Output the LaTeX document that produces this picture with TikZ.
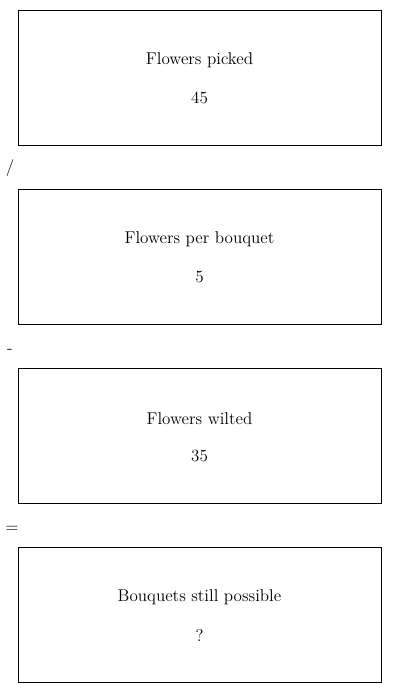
\documentclass[tikz,border=0pt]{standalone}
\usepackage{tikz}
\usetikzlibrary{positioning}

\begin{document}
\begin{tikzpicture}[
		x=0.75pt,y=-0.75pt,
		qbox/.style ={rectangle,draw,line width=0.75pt,minimum width=272.25pt,minimum height=101.25pt,inner sep=0pt},
		qtitle/.style={font=\fontsize{12.8}{15}\selectfont,inner sep=0pt},
		qval/.style  ={font=\fontsize{12.8}{15}\selectfont,inner sep=0pt},
		op/.style    ={font=\fontsize{12.8}{15}\selectfont,inner sep=0pt}
		]

		% ---- page frame (pixel units, 400 x 693) ----
		\useasboundingbox (0,0) rectangle (400,693);

		% ---- quantity boxes ----
		\node[qbox] (picked)  at (199.5, 77.5) {};
		\node[qbox] (perbq)   at (199.5,256.5) {};
		\node[qbox] (wilted)  at (199.5,435.5) {};
		\node[qbox] (result)  at (199.5,614.5) {};

		% ---- box texts ----
		\node[qtitle] (pickedtxt) at ([yshift=12.6pt] picked.center) {Flowers picked};
		\node[qval]   (pickedval) at ([yshift=-15.4pt] picked.center) {45};
		\node[qtitle] (perbqtxt)  at ([yshift=12.6pt] perbq.center) {Flowers per bouquet};
		\node[qval]   (perbqval)  at ([yshift=-15.4pt] perbq.center) {5};
		\node[qtitle] (wiltedtxt) at ([yshift=12.6pt] wilted.center) {Flowers wilted};
		\node[qval]   (wiltedval) at ([yshift=-15.4pt] wilted.center) {35};
		\node[qtitle] (resulttxt) at ([yshift=12.6pt] result.center) {Bouquets still possible};
		\node[qval]   (resultval) at ([yshift=-15.4pt] result.center) {?};

		% ---- operators between boxes ----
		\node[op] (opdiv)   at (10,168.5) {/};
		\node[op] (opminus) at (10,351) {-};
		\node[op] (opeq)    at (12,529) {=};

	\end{tikzpicture}
\end{document}
